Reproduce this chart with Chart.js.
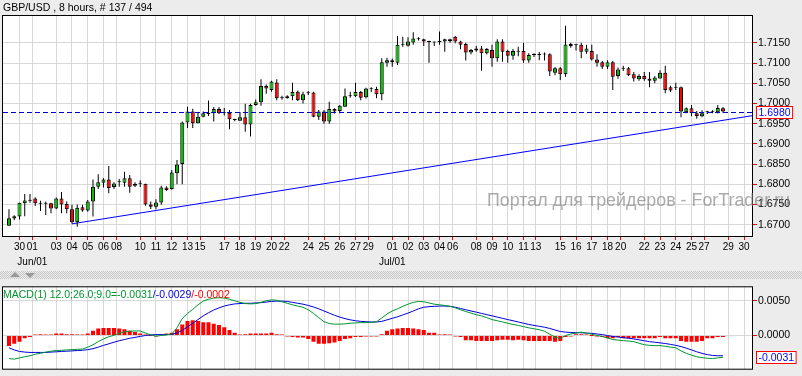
<!DOCTYPE html>
<html><head><meta charset="utf-8">
<script src="https://cdn.jsdelivr.net/npm/chart.js@4.4.1/dist/chart.umd.min.js"></script>
<style>
html,body{margin:0;padding:0;background:#ECECEC;width:802px;height:376px;overflow:hidden;}
#wrap{position:relative;width:802px;height:376px;}
#c1{position:absolute;left:0;top:0;}
#c2{position:absolute;left:0;top:280px;}
#sep{position:absolute;left:0;top:271px;width:802px;height:8px;
 background:repeating-conic-gradient(#c8c8c8 0 25%, #ececec 0 50%) 0 0/2px 2px;}
.tri{position:absolute;width:0;height:0;border-left:5px solid transparent;border-right:5px solid transparent;}
</style></head>
<body><div id="wrap">
<canvas id="c1" width="802" height="280"></canvas>
<div id="sep"></div>
<div class="tri" style="left:10px;top:272px;border-bottom:5px solid #9a9a9a"></div>
<div class="tri" style="left:25px;top:273px;border-top:5px solid #9a9a9a"></div>
<canvas id="c2" width="802" height="96"></canvas>
</div>
<script>
// ---------- data ----------
const titleText = 'GBP/USD , 8 hours, # 137 / 494';
const watermarkText = 'Портал для трейдеров - ForTrader.ru';

const open = [1.6697,1.6715,1.6720,1.6753,1.6759,1.6765,1.6753,1.6753,1.6753,1.6740,
1.6765,1.6751,1.6738,1.6706,1.6743,1.6735,1.6757,1.6794,1.6804,1.6812,
1.6793,1.6805,1.6804,1.6815,1.6796,1.6801,1.6801,1.6750,1.6744,1.6755,
1.6792,1.6788,1.6827,1.6850,1.6953,1.6980,1.6951,1.6967,1.6974,1.6976,
1.6986,1.6978,1.6977,1.6959,1.6957,1.6966,1.6948,1.6996,1.7003,1.7043,
1.7033,1.7052,1.7013,1.7013,1.7018,1.7029,1.7008,1.7025,1.7027,1.6967,
1.6980,1.6955,1.6986,1.6981,1.6992,1.7018,1.7018,1.7028,1.7015,1.7036,
1.7036,1.7023,1.7101,1.7107,1.7101,1.7145,1.7143,1.7151,1.7160,1.7159,
1.7153,1.7151,1.7152,1.7153,1.7159,1.7165,1.7153,1.7147,1.7126,1.7131,
1.7136,1.7124,1.7132,1.7112,1.7153,1.7130,1.7118,1.7128,1.7130,1.7106,
1.7120,1.7120,1.7121,1.7122,1.7076,1.7087,1.7072,1.7147,1.7146,1.7145,
1.7128,1.7130,1.7109,1.7102,1.7091,1.7102,1.7068,1.7087,1.7087,1.7072,
1.7060,1.7068,1.7062,1.7056,1.7062,1.7076,1.7040,1.7040,1.7040,1.6978,
1.6988,1.6976,1.6968,1.6978,1.6978,1.6978,1.6988];
const high = [1.6738,1.6723,1.6754,1.6776,1.6776,1.6768,1.6759,1.6757,1.6754,1.6767,
1.6781,1.6757,1.6749,1.6750,1.6749,1.6761,1.6812,1.6825,1.6815,1.6845,
1.6805,1.6813,1.6831,1.6823,1.6805,1.6810,1.6801,1.6757,1.6763,1.6796,
1.6795,1.6835,1.6860,1.6955,1.6992,1.6987,1.6977,1.6980,1.7007,1.6991,
1.6991,1.6989,1.6984,1.6962,1.6979,1.6999,1.6999,1.7010,1.7060,1.7047,
1.7056,1.7060,1.7019,1.7020,1.7051,1.7032,1.7029,1.7031,1.7029,1.6984,
1.6984,1.7004,1.6988,1.6996,1.7037,1.7029,1.7051,1.7031,1.7039,1.7040,
1.7041,1.7112,1.7113,1.7111,1.7167,1.7165,1.7164,1.7176,1.7164,1.7160,
1.7155,1.7153,1.7178,1.7160,1.7160,1.7167,1.7155,1.7150,1.7135,1.7142,
1.7142,1.7137,1.7145,1.7159,1.7159,1.7133,1.7135,1.7140,1.7150,1.7124,
1.7124,1.7127,1.7126,1.7124,1.7090,1.7090,1.7192,1.7150,1.7148,1.7150,
1.7145,1.7145,1.7122,1.7105,1.7107,1.7105,1.7089,1.7093,1.7090,1.7078,
1.7072,1.7078,1.7078,1.7067,1.7082,1.7093,1.7044,1.7051,1.7042,1.6990,
1.6996,1.6981,1.6983,1.6982,1.6983,1.6996,1.6991];
const low = [1.6697,1.6711,1.6713,1.6721,1.6754,1.6746,1.6734,1.6724,1.6728,1.6738,
1.6728,1.6728,1.6703,1.6695,1.6732,1.6732,1.6720,1.6788,1.6792,1.6778,
1.6788,1.6794,1.6794,1.6779,1.6793,1.6793,1.6747,1.6739,1.6738,1.6749,
1.6784,1.6787,1.6800,1.6800,1.6939,1.6939,1.6951,1.6966,1.6969,1.6955,
1.6974,1.6970,1.6936,1.6956,1.6957,1.6930,1.6918,1.6994,1.6994,1.7024,
1.7029,1.7008,1.7009,1.7012,1.7008,1.7006,1.7000,1.7021,1.6966,1.6959,
1.6950,1.6950,1.6975,1.6976,1.6992,1.7014,1.7016,1.7008,1.7012,1.7028,
1.7013,1.7008,1.7091,1.7091,1.7095,1.7140,1.7141,1.7145,1.7156,1.7142,
1.7101,1.7142,1.7145,1.7128,1.7150,1.7149,1.7134,1.7106,1.7122,1.7128,
1.7081,1.7121,1.7091,1.7103,1.7103,1.7101,1.7108,1.7117,1.7101,1.7101,
1.7115,1.7107,1.7106,1.7068,1.7070,1.7058,1.7066,1.7138,1.7131,1.7112,
1.7123,1.7106,1.7091,1.7085,1.7085,1.7033,1.7061,1.7080,1.7068,1.7054,
1.7056,1.7056,1.7040,1.7050,1.7061,1.7025,1.7028,1.7033,1.6966,1.6976,
1.6968,1.6962,1.6966,1.6974,1.6976,1.6975,1.6977];
const close = [1.6716,1.6721,1.6754,1.6760,1.6759,1.6753,1.6752,1.6752,1.6740,1.6765,
1.6750,1.6738,1.6706,1.6742,1.6735,1.6757,1.6794,1.6805,1.6812,1.6791,
1.6802,1.6807,1.6815,1.6794,1.6801,1.6801,1.6750,1.6744,1.6755,1.6792,
1.6786,1.6829,1.6849,1.6953,1.6980,1.6951,1.6967,1.6976,1.6974,1.6986,
1.6976,1.6976,1.6961,1.6959,1.6966,1.6948,1.6996,1.7003,1.7043,1.7037,
1.7054,1.7013,1.7013,1.7018,1.7028,1.7008,1.7023,1.7027,1.6967,1.6980,
1.6955,1.6986,1.6980,1.6994,1.7018,1.7020,1.7028,1.7014,1.7037,1.7035,
1.7023,1.7102,1.7107,1.7102,1.7145,1.7144,1.7153,1.7161,1.7159,1.7153,
1.7152,1.7151,1.7152,1.7159,1.7154,1.7153,1.7145,1.7126,1.7132,1.7136,
1.7124,1.7135,1.7112,1.7153,1.7128,1.7118,1.7130,1.7128,1.7106,1.7120,
1.7120,1.7121,1.7122,1.7079,1.7087,1.7072,1.7146,1.7142,1.7144,1.7128,
1.7136,1.7109,1.7101,1.7091,1.7102,1.7066,1.7084,1.7086,1.7070,1.7062,
1.7068,1.7060,1.7056,1.7064,1.7076,1.7033,1.7032,1.7039,1.6980,1.6988,
1.6976,1.6969,1.6976,1.6979,1.6980,1.6989,1.6980];

const macdMain = [-0.00332,-0.00341,-0.00323,-0.00306,-0.00292,-0.00270,-0.00257,-0.00239,-0.00226,-0.00217,
-0.00213,-0.00208,-0.00204,-0.00199,-0.00195,-0.00168,-0.00133,-0.00089,-0.00049,-0.00018,
0.00004,0.00031,0.00053,0.00062,0.00066,0.00066,0.00035,0.00009,-0.00009,0.00000,
0.00009,0.00022,0.00111,0.00244,0.00319,0.00377,0.00443,0.00496,0.00523,0.00540,
0.00545,0.00540,0.00523,0.00501,0.00478,0.00461,0.00456,0.00461,0.00478,0.00501,
0.00514,0.00509,0.00487,0.00465,0.00443,0.00425,0.00408,0.00372,0.00319,0.00257,
0.00199,0.00173,0.00164,0.00164,0.00168,0.00177,0.00182,0.00186,0.00186,0.00190,
0.00199,0.00253,0.00310,0.00354,0.00385,0.00421,0.00452,0.00478,0.00492,0.00487,
0.00470,0.00452,0.00443,0.00434,0.00421,0.00399,0.00372,0.00346,0.00323,0.00301,
0.00284,0.00257,0.00230,0.00213,0.00195,0.00177,0.00159,0.00146,0.00128,0.00111,
0.00097,0.00084,0.00062,0.00018,-0.00022,-0.00044,0.00000,0.00022,0.00035,0.00049,
0.00035,0.00018,0.00000,-0.00013,-0.00035,-0.00058,-0.00066,-0.00075,-0.00080,-0.00089,
-0.00111,-0.00133,-0.00142,-0.00146,-0.00146,-0.00155,-0.00168,-0.00177,-0.00222,-0.00257,
-0.00284,-0.00306,-0.00319,-0.00328,-0.00332,-0.00323,-0.00314];
const macdSignal = [-0.00177,-0.00208,-0.00230,-0.00239,-0.00244,-0.00244,-0.00244,-0.00244,-0.00239,-0.00235,
-0.00230,-0.00226,-0.00222,-0.00217,-0.00213,-0.00204,-0.00190,-0.00168,-0.00142,-0.00120,
-0.00097,-0.00075,-0.00058,-0.00040,-0.00027,-0.00013,0.00000,0.00009,0.00013,0.00013,
0.00013,0.00018,0.00035,0.00075,0.00124,0.00177,0.00230,0.00284,0.00328,0.00368,
0.00399,0.00425,0.00443,0.00456,0.00461,0.00465,0.00465,0.00470,0.00474,0.00483,
0.00492,0.00496,0.00496,0.00492,0.00478,0.00465,0.00452,0.00434,0.00412,0.00385,
0.00354,0.00323,0.00292,0.00266,0.00244,0.00226,0.00213,0.00204,0.00199,0.00195,
0.00195,0.00204,0.00226,0.00248,0.00270,0.00297,0.00323,0.00354,0.00385,0.00408,
0.00416,0.00421,0.00425,0.00425,0.00421,0.00408,0.00390,0.00372,0.00354,0.00337,
0.00319,0.00301,0.00284,0.00266,0.00248,0.00230,0.00213,0.00195,0.00177,0.00159,
0.00146,0.00133,0.00120,0.00102,0.00080,0.00058,0.00049,0.00044,0.00040,0.00040,
0.00035,0.00031,0.00022,0.00013,0.00000,-0.00013,-0.00022,-0.00031,-0.00040,-0.00049,
-0.00062,-0.00075,-0.00089,-0.00097,-0.00106,-0.00115,-0.00128,-0.00142,-0.00159,-0.00182,
-0.00208,-0.00235,-0.00257,-0.00275,-0.00288,-0.00292,-0.00292];
const macdHist = [-0.0015,-0.0012,-0.0009,-0.0004,-0.0002,0.0001,0.0002,0.0001,0.0001,0.0003,
0.0003,0.0002,0.0002,0.0001,0.0001,0.0003,0.0007,0.0010,0.0011,0.0011,
0.0011,0.0010,0.0009,0.0007,0.0005,0.0003,0.0001,0.0000,-0.0001,0.0001,
0.0003,0.0004,0.0009,0.0016,0.0021,0.0022,0.0021,0.0019,0.0019,0.0017,
0.0015,0.0012,0.0008,0.0004,0.0001,0.0002,0.0003,0.0003,0.0003,0.0003,
0.0004,0.0002,0.0001,-0.0001,-0.0002,-0.0003,-0.0003,-0.0005,-0.0009,-0.0012,
-0.0012,-0.0011,-0.0010,-0.0008,-0.0005,-0.0004,-0.0002,-0.0002,-0.0001,-0.0001,
-0.0001,0.0002,0.0007,0.0009,0.0010,0.0011,0.0011,0.0010,0.0009,0.0008,
0.0004,0.0004,0.0001,0.0002,0.0001,-0.0001,-0.0002,-0.0007,-0.0007,-0.0008,
-0.0008,-0.0008,-0.0008,-0.0007,-0.0006,-0.0006,-0.0007,-0.0006,-0.0007,-0.0008,
-0.0008,-0.0008,-0.0008,-0.0008,-0.0009,-0.0008,-0.0002,-0.0001,0.0002,0.0002,
0.0001,0.0000,-0.0001,-0.0002,-0.0004,-0.0004,-0.0002,-0.0004,-0.0004,-0.0004,
-0.0004,-0.0004,-0.0004,-0.0004,-0.0002,-0.0004,-0.0004,-0.0004,-0.0008,-0.0009,
-0.0009,-0.0009,-0.0008,-0.0004,-0.0004,-0.0002,-0.0002];
const macdHistLabel = -0.0002;

// date ticks (bar positions of day starts) and their labels
const tickPos = [2,4.45,9,12,15,18,20.5,25,28,31,34,36.4,41,44,47,50,52.45,57,60,63,66,68.45,
73,76,79,82,84.5,89,92,95,98,100.35,105,108,111,114,116.5,121,124,127,130,132.4,137,140];
const tickLabels = ['30','01','03','04','05','06','08','10','11','12','13','15','17','18','19','20','22','24','25','26','27','29',
'01','02','03','04','06','08','09','10','11','13','15','16','17','18','20','22','23','24','25','27','29','30'];
const monthLabels = {1:'Jun/01', 22:'Jul/01'};
const priceTicks = [1.6700,1.6750,1.6800,1.6850,1.6900,1.6950,1.7000,1.7050,1.7100,1.7150];
const macdTicks = [0.0000,0.0050];
// trend line anchors (bar index, price)
const trendIdx = [12, 141.7];
const trendPrice = [1.6702, 1.6970];

// ---------- drawing ----------
const FONT = '"Liberation Sans", Arial, sans-serif';
const GREEN = '#00C000', RED = '#FF0000', GRID = '#D8D8D8';
const N = close.length;
const idx = Array.from({length:N}, (_, i) => i);
const X_MIN = -1.14, X_MAX = 141.71;

function xScaleCfg(showLabels){
  return {
    type:'linear', min:X_MIN, max:X_MAX, offset:false,
    afterBuildTicks: s => { s.ticks = tickPos.map(v => ({value:v})); },
    afterFit: s => { s.height = showLabels ? 44 : 7; },
    border:{display:false},
    grid:{color:GRID, tickColor:RED, tickLength:4, drawTicks:showLabels, offset:false},
    ticks:{display:showLabels, autoSkip:false, maxRotation:0, minRotation:0, padding:0, color:'#000',
      font:{family:FONT, size:10, lineHeight:1.5},
      callback:(v, k) => monthLabels[k] ? [tickLabels[k], monthLabels[k]] : tickLabels[k]}
  };
}

const framePlugin = {
  id:'frame',
  beforeDraw(chart){
    const {ctx, chartArea:a} = chart;
    ctx.save(); ctx.fillStyle = '#fff';
    ctx.fillRect(a.left, a.top, a.right - a.left, a.bottom - a.top);
    ctx.restore();
  },
  afterDraw(chart){
    const {ctx, chartArea:a} = chart;
    ctx.save(); ctx.strokeStyle = '#000'; ctx.lineWidth = 1;
    ctx.strokeRect(a.left - 0.5, a.top - 0.5, a.right - a.left, a.bottom - a.top + 1);
    ctx.restore();
  }
};

function valueBox(chart, yScale, value, color){
  const {ctx, chartArea:a} = chart;
  const y = Math.round(yScale.getPixelForValue(value));
  ctx.save();
  ctx.font = '10.5px ' + FONT;
  const txt = value.toFixed(4);
  const w = ctx.measureText(txt).width + 5;
  const x0 = a.right + 3;
  ctx.fillStyle = '#fff'; ctx.fillRect(x0, y - 6, w, 13);
  ctx.strokeStyle = RED; ctx.lineWidth = 1; ctx.strokeRect(x0 + 0.5, y - 5.5, w - 1, 12);
  ctx.fillStyle = color; ctx.textBaseline = 'middle'; ctx.textAlign = 'left';
  ctx.fillText(txt, x0 + 2.5, y + 1);
  ctx.restore();
}

const pricePlugin = {
  id:'priceDeco',
  afterDatasetsDraw(chart){
    const {ctx, chartArea:a} = chart;
    const y = Math.round(chart.scales.y.getPixelForValue(close[N-1])) + 0.5;
    ctx.save(); ctx.strokeStyle = '#0000CC'; ctx.lineWidth = 1; ctx.setLineDash([5,3]);
    ctx.beginPath(); ctx.moveTo(a.left, y); ctx.lineTo(a.right, y); ctx.stroke();
    ctx.restore();
  },
  afterDraw(chart){
    const {ctx, chartArea:a} = chart;
    // watermark (drawn unclipped, it runs over the price axis as in the original)
    ctx.save();
    ctx.font = '17.85px ' + FONT;
    ctx.fillStyle = 'rgba(120,120,120,0.62)'; ctx.textBaseline = 'middle'; ctx.textAlign = 'left';
    ctx.fillText(watermarkText, a.right - 266, 201);
    ctx.restore();
    ctx.save(); ctx.font = '10.5px ' + FONT; ctx.fillStyle = '#000'; ctx.textBaseline = 'middle'; ctx.textAlign = 'left';
    ctx.fillText(titleText, 3, 8);
    ctx.restore();
    valueBox(chart, chart.scales.y, close[N-1], '#0000FF');
  }
};

const bodyColor = c => { const i = c.dataIndex; return close[i] > open[i] ? GREEN : (close[i] < open[i] ? RED : '#000'); };

new Chart(document.getElementById('c1'), {
  data:{ datasets:[
    { type:'bar', label:'body', order:0, grouped:false,
      data: idx.map(i => ({x:i, y:[open[i], close[i]]})),
      backgroundColor: bodyColor, borderColor:'#000', borderWidth:1, borderSkipped:false,
      barThickness:4, minBarLength:1, inflateAmount:0 },
    { type:'bar', label:'wick', order:1, grouped:false,
      data: idx.map(i => ({x:i, y:[low[i], high[i]]})),
      backgroundColor:'#000', borderWidth:0, barThickness:1, inflateAmount:0 },
    { type:'line', label:'trend', order:2,
      data: trendIdx.map((x, k) => ({x, y:trendPrice[k]})),
      borderColor:'#0000FF', borderWidth:1, pointRadius:0, tension:0 }
  ]},
  options:{
    responsive:false, animation:false, events:[],
    layout:{padding:{left:3, top:16, right:0, bottom:0}},
    plugins:{legend:{display:false}, tooltip:{enabled:false}},
    scales:{
      x: xScaleCfg(true),
      y:{ position:'right', min:1.66719, max:1.72164,
        afterBuildTicks: s => { s.ticks = priceTicks.map(v => ({value:v})); },
        afterFit: s => { s.width = 49; },
        border:{display:false},
        grid:{color:GRID, tickColor:RED, tickLength:4},
        ticks:{padding:1, color:'#000', font:{family:FONT, size:10.5}, callback: v => v.toFixed(4)} }
    }
  },
  plugins:[framePlugin, pricePlugin]
});

const macdPlugin = {
  id:'macdDeco',
  afterDraw(chart){
    const {ctx, chartArea:a} = chart;
    const last = N - 1;
    const parts = [
      ['MACD(1) 12.0;26.0;9.0=' + macdMain[last].toFixed(4), '#00962E'],
      ['/' + macdSignal[last].toFixed(4), '#0000DD'],
      ['/' + macdHistLabel.toFixed(4), RED]
    ];
    ctx.save(); ctx.font = '10.5px ' + FONT; ctx.textBaseline = 'middle'; ctx.textAlign = 'left';
    let x = a.left;
    for (const [t, c] of parts){ ctx.fillStyle = c; ctx.fillText(t, x, a.top + 7.5); x += ctx.measureText(t).width; }
    ctx.restore();
    valueBox(chart, chart.scales.y, macdMain[last], '#0000FF');
  }
};

new Chart(document.getElementById('c2'), {
  data:{ datasets:[
    { type:'line', label:'MACD', order:0, data: idx.map(i => ({x:i, y:macdMain[i]})),
      borderColor:'#00962E', borderWidth:1, pointRadius:0, tension:0 },
    { type:'line', label:'Signal', order:1, data: idx.map(i => ({x:i, y:macdSignal[i]})),
      borderColor:'#0000DD', borderWidth:1, pointRadius:0, tension:0 },
    { type:'bar', label:'Hist', order:2, grouped:false, data: idx.map(i => ({x:i, y:macdHist[i]})),
      backgroundColor:RED, borderWidth:0, barThickness:4, minBarLength:1, inflateAmount:0 }
  ]},
  options:{
    responsive:false, animation:false, events:[],
    layout:{padding:{left:3, top:1, right:0, bottom:0}},
    plugins:{legend:{display:false}, tooltip:{enabled:false}},
    scales:{
      x: xScaleCfg(false),
      y:{ position:'right', min:-0.004787, max:0.006955,
        afterBuildTicks: s => { s.ticks = macdTicks.map(v => ({value:v})); },
        afterFit: s => { s.width = 49; },
        border:{display:false},
        grid:{color:GRID, tickColor:RED, tickLength:4},
        ticks:{padding:1, color:'#000', font:{family:FONT, size:10.5}, callback: v => v.toFixed(4)} }
    }
  },
  plugins:[framePlugin, macdPlugin]
});
</script>
</body></html>
